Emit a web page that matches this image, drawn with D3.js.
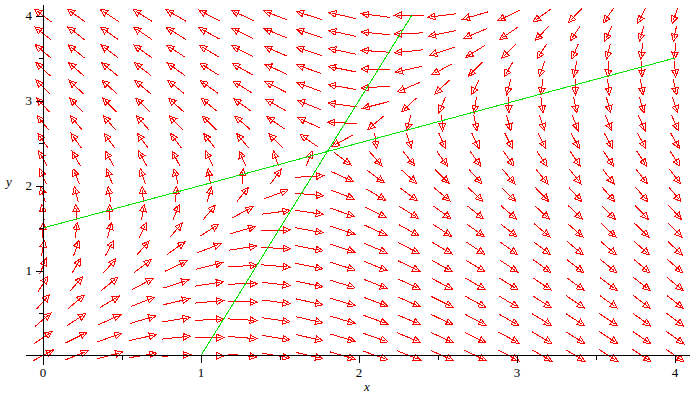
<!DOCTYPE html>
<html><head><meta charset="utf-8">
<script src="https://cdn.jsdelivr.net/npm/d3@7"></script>
<style>body{margin:0;background:#fff}svg{display:block}</style>
</head><body>
<script>
// ---- data ----
const xDomain = [0, 4];
const yDomain = [0, 4];
const gridCount = 20;                 // arrows per row / column
const dxCoef = [1, -2, 3];            // dx/dt = a*x + b*y + c
const dyCoef = [-3, 1, 3];            // dy/dt = a*x + b*y + c
const nullclineX = [[0, 1.5], [4, 3.5]];      // dx/dt = 0
const nullclineY = [[1, 0], [7 / 3, 4]];      // dy/dt = 0
const xMajorTicks = [0, 1, 2, 3, 4];
const xMinorTicks = [0.5, 1.5, 2.5, 3.5];
const yMajorTicks = [1, 2, 3, 4];
const yMinorTicks = [0.5, 1.5, 2.5, 3.5];
const xTickLabels = ["0", "1", "2", "3", "4"];
const yTickLabels = ["1", "2", "3", "4"];

const W = 698, H = 400;
const x = d3.scaleLinear().domain(xDomain).range([43, 675]);
const y = d3.scaleLinear().domain(yDomain).range([355.5, 15.5]);

const svg = d3.select("body").append("svg").attr("width", W).attr("height", H);

// arrows
const arrowLen = 0.185;
const headLen = 7, headHalf = 3.3;
const gx = d3.range(gridCount).map(i => xDomain[0] + i * (xDomain[1] - xDomain[0]) / (gridCount - 1));
const gy = d3.range(gridCount).map(i => yDomain[0] + i * (yDomain[1] - yDomain[0]) / (gridCount - 1));
const pts = [];
gx.forEach(px => gy.forEach(py => {
  const dx = dxCoef[0] * px + dxCoef[1] * py + dxCoef[2];
  const dy = dyCoef[0] * px + dyCoef[1] * py + dyCoef[2];
  const m = Math.hypot(dx, dy) || 1;
  const ux = dx / m * arrowLen, uy = dy / m * arrowLen;
  pts.push({x0: x(px - ux / 2), y0: y(py - uy / 2), x1: x(px + ux / 2), y1: y(py + uy / 2)});
}));
const ag = svg.append("g").attr("stroke", "#ff0000").attr("stroke-width", 1).attr("fill", "#fff")
  .attr("shape-rendering", "crispEdges");
pts.forEach(p => {
  const vx = p.x1 - p.x0, vy = p.y1 - p.y0, l = Math.hypot(vx, vy);
  const ex = vx / l, ey = vy / l;
  const bx = p.x1 - ex * headLen, by = p.y1 - ey * headLen;
  ag.append("line").attr("x1", p.x0).attr("y1", p.y0).attr("x2", bx).attr("y2", by);
  ag.append("path").attr("d",
    `M${p.x1},${p.y1}L${bx - ey * headHalf},${by + ex * headHalf}L${bx + ey * headHalf},${by - ex * headHalf}Z`);
  ag.append("line").attr("x1", bx).attr("y1", by).attr("x2", bx + ex * headLen * 0.55).attr("y2", by + ey * headLen * 0.55);
});

// nullclines
const lineGen = d3.line().x(d => x(d[0])).y(d => y(d[1]));
[nullclineX, nullclineY].forEach(l =>
  svg.append("path").attr("d", lineGen(l)).attr("stroke", "#00e600").attr("stroke-width", 1)
    .attr("fill", "none").attr("shape-rendering", "crispEdges"));

// axes
const ax = svg.append("g").attr("stroke", "#000").attr("stroke-width", 1).attr("shape-rendering", "crispEdges");
ax.append("line").attr("x1", 26).attr("x2", 690).attr("y1", y(0)).attr("y2", y(0));
ax.append("line").attr("x1", x(0)).attr("x2", x(0)).attr("y1", 5).attr("y2", 365);

const xAxis = svg.append("g").attr("transform", `translate(0,${y(0)})`)
  .call(d3.axisBottom(x).tickValues(xMajorTicks).tickSize(7).tickFormat(""));
const xAxisMinor = svg.append("g").attr("transform", `translate(0,${y(0)})`)
  .call(d3.axisBottom(x).tickValues(xMinorTicks).tickSize(4).tickFormat(""));
const yAxis = svg.append("g").attr("transform", `translate(${x(0)},0)`)
  .call(d3.axisLeft(y).tickValues(yMajorTicks).tickSize(7).tickFormat(""));
const yAxisMinor = svg.append("g").attr("transform", `translate(${x(0)},0)`)
  .call(d3.axisLeft(y).tickValues(yMinorTicks).tickSize(4).tickFormat(""));
[xAxis, xAxisMinor, yAxis, yAxisMinor].forEach(g => {
  g.select(".domain").remove();
  g.selectAll("line").attr("stroke", "#000").attr("shape-rendering", "crispEdges");
});

const font = "'Liberation Serif', 'Times New Roman', serif";
svg.append("g").selectAll("text").data(xMajorTicks).join("text")
  .attr("x", d => x(d)).attr("y", 377).attr("text-anchor", "middle")
  .attr("font-family", font).attr("font-size", 13).text((d, i) => xTickLabels[i]);
svg.append("g").selectAll("text").data(yMajorTicks).join("text")
  .attr("x", 32).attr("y", d => y(d) + 4.5).attr("text-anchor", "end")
  .attr("font-family", font).attr("font-size", 13).text((d, i) => yTickLabels[i]);
svg.append("text").attr("x", 367).attr("y", 391).attr("text-anchor", "middle")
  .attr("font-family", font).attr("font-style", "italic").attr("font-size", 13).text("x");
svg.append("text").attr("x", 9).attr("y", 186).attr("text-anchor", "middle")
  .attr("font-family", font).attr("font-style", "italic").attr("font-size", 13).text("y");
</script>
</body></html>
